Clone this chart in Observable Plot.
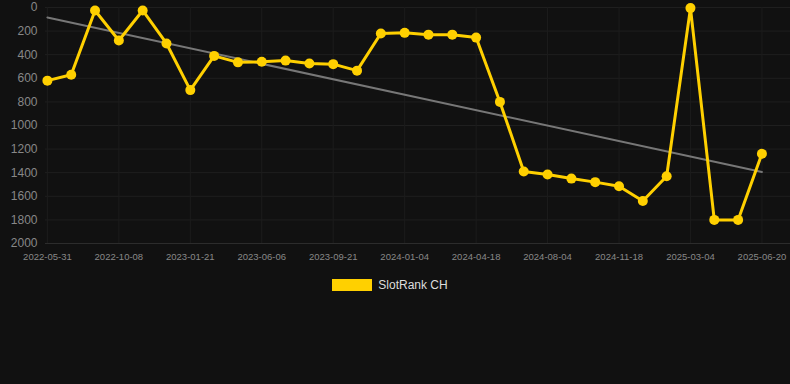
<!DOCTYPE html>
<html>
<head>
<meta charset="utf-8">
<script src="https://cdn.jsdelivr.net/npm/d3@7"></script>
<script src="https://cdn.jsdelivr.net/npm/@observablehq/plot@0.6"></script>
<style>
  html, body { margin: 0; padding: 0; background: #111111; }
  body { width: 790px; height: 384px; overflow: hidden; font-family: "Liberation Sans", Arial, sans-serif; }
  #legend { display: flex; justify-content: center; align-items: center; margin-top: 8px; padding-right: 10px; color: #dddddd; font-size: 12px; }
  #legend .sw { width: 40px; height: 12px; background: #FFD000; margin-right: 6px; }
</style>
</head>
<body>
<div id="chart"></div>
<div id="legend"><span class="sw"></span><span>SlotRank CH</span></div>
<script>
const dates = [
  "2022-05-31","","","2022-10-08","","","2023-01-21","","","2023-06-06","","",
  "2023-09-21","","","2024-01-04","","","2024-04-18","","","2024-08-04","","",
  "2024-11-18","","","2025-03-04","","","2025-06-20"
];
const ranks = [
  620, 570, 25, 280, 25, 305, 700, 410, 465, 460, 450, 475,
  480, 535, 220, 215, 230, 230, 255, 800, 1390, 1415, 1450, 1480,
  1515, 1640, 1430, 5, 1800, 1800, 1240
];
const yTicks = [0, 200, 400, 600, 800, 1000, 1200, 1400, 1600, 1800, 2000];

const data = ranks.map((v, i) => ({i, v, label: dates[i]}));
const xTicks = data.filter(d => d.label !== "").map(d => d.i);

const chart = Plot.plot({
  width: 790,
  height: 270,
  marginLeft: 45,
  marginRight: 0,
  marginTop: 7,
  marginBottom: 27,
  style: { background: "#111111", color: "#888888", fontFamily: "Liberation Sans, Arial, sans-serif", fontSize: "11px" },
  x: { domain: [-0.08, 31.2], ticks: xTicks, tickFormat: i => dates[i], tickSize: 0, tickPadding: 10, label: null },
  y: { domain: [0, 2000], reverse: true, ticks: yTicks, tickSize: 0, tickPadding: 8, label: null },
  marks: [
    Plot.gridY(yTicks, { stroke: "#1f1f1f", strokeOpacity: 1 }),
    Plot.gridX(xTicks, { stroke: "#1c1c1c", strokeOpacity: 1 }),
    Plot.ruleY([2000], { stroke: "#2c2c2c" }),
    Plot.axisY(yTicks, { tickSize: 0, tickPadding: 8, tickFormat: d => String(d), fill: "#888888", fontSize: 12 }),
    Plot.axisX(xTicks, { tickSize: 0, tickPadding: 10, tickFormat: i => dates[i], fill: "#888888", fontSize: 9.5 }),
    Plot.linearRegressionY(data, { x: "i", y: "v", ci: 0, stroke: "#777777", strokeWidth: 2 }),
    Plot.line(data, { x: "i", y: "v", stroke: "#FFD000", strokeWidth: 3, strokeLinejoin: "round" }),
    Plot.dot(data, { x: "i", y: "v", r: 5, fill: "#FFD000", stroke: "none" })
  ]
});
document.getElementById("chart").appendChild(chart);
</script>
</body>
</html>
